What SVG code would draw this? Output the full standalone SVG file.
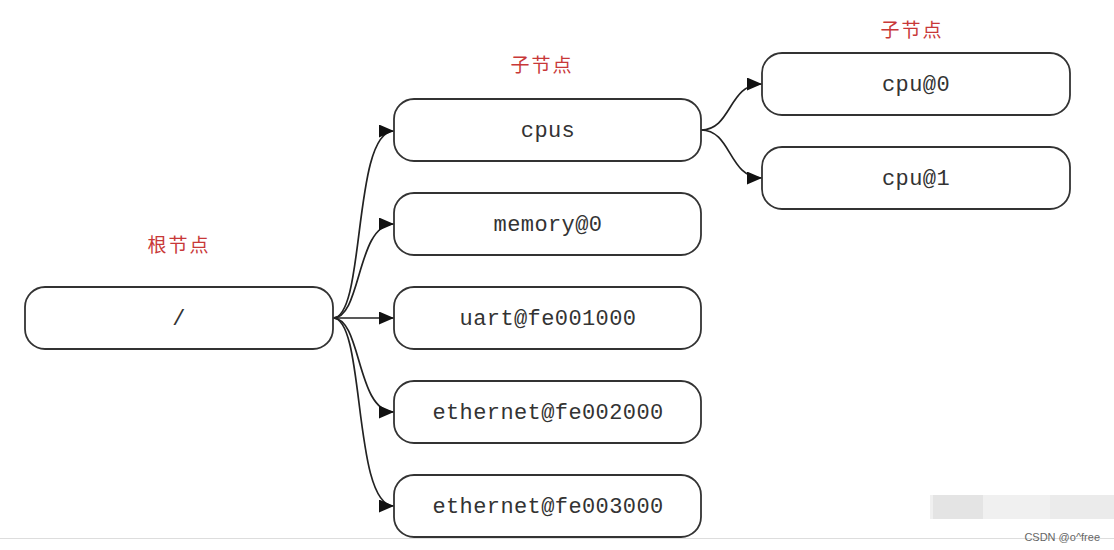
<svg xmlns="http://www.w3.org/2000/svg" width="1114" height="550" viewBox="0 0 1114 550">
<defs>
<style>
.node rect{fill:#fff;stroke:#333;stroke-width:1.8}
.node text{font-family:"Liberation Mono","Courier New",monospace;font-size:22px;letter-spacing:0.4px;fill:#333;text-anchor:middle}
.lbl{font-family:"Noto Sans CJK SC",sans-serif;font-size:19px;fill:#c83838;text-anchor:middle;letter-spacing:2px}
.edge{fill:none;stroke:#222;stroke-width:1.7}
</style>
<marker id="arr" markerUnits="userSpaceOnUse" markerWidth="16" markerHeight="14" refX="15" refY="6.5" orient="auto">
<path d="M0,0 L15,6.5 L0,13 z" fill="#111"/>
</marker>
</defs>
<rect width="1114" height="550" fill="#fff"/>
<text class="lbl" x="179" y="252">根节点</text>
<text class="lbl" x="542" y="72">子节点</text>
<text class="lbl" x="912" y="37">子节点</text>
<g id="connectors">
<path class="edge" marker-end="url(#arr)" d="M333,318 C366,318 352,131 394,131"/>
<path class="edge" marker-end="url(#arr)" d="M333,318 C362,318 356,224 394,224"/>
<path class="edge" marker-end="url(#arr)" d="M333,318 L394,318"/>
<path class="edge" marker-end="url(#arr)" d="M333,318 C362,318 356,412 394,412"/>
<path class="edge" marker-end="url(#arr)" d="M333,318 C366,318 352,506 394,506"/>
<path class="edge" marker-end="url(#arr)" d="M701,130 C732,130 728,84 762,84"/>
<path class="edge" marker-end="url(#arr)" d="M701,130 C732,130 728,178 762,178"/>
</g>
<g id="root" class="node"><rect x="25" y="287" width="308" height="62" rx="20"/><text x="179" y="325">/</text></g>
<g id="cpus" class="node"><rect x="394" y="99" width="307" height="62" rx="20"/><text x="548" y="137">cpus</text></g>
<g id="memory0" class="node"><rect x="394" y="193" width="307" height="62" rx="20"/><text x="548" y="231">memory@0</text></g>
<g id="uart" class="node"><rect x="394" y="287" width="307" height="62" rx="20"/><text x="548" y="325">uart@fe001000</text></g>
<g id="eth2" class="node"><rect x="394" y="381" width="307" height="62" rx="20"/><text x="548" y="419">ethernet@fe002000</text></g>
<g id="eth3" class="node"><rect x="394" y="475" width="307" height="62" rx="20"/><text x="548" y="513">ethernet@fe003000</text></g>
<g id="cpu0" class="node"><rect x="762" y="53" width="308" height="62" rx="20"/><text x="916" y="91">cpu@0</text></g>
<g id="cpu1" class="node"><rect x="762" y="147" width="308" height="62" rx="20"/><text x="916" y="185">cpu@1</text></g>
<g id="watermark">
<rect x="930" y="495" width="184" height="24" fill="#f0f0f0"/>
<rect x="933" y="495" width="50" height="24" fill="#e4e4e4"/>
<rect x="1050" y="495" width="64" height="24" fill="#ebebeb"/>
</g>
<line x1="0" y1="538.5" x2="1114" y2="538.5" stroke="#ddd" stroke-width="1"/>
<text x="1100" y="541" font-family="Liberation Sans,Arial,sans-serif" font-size="11" fill="#666" text-anchor="end">CSDN @o^free</text>
</svg>
